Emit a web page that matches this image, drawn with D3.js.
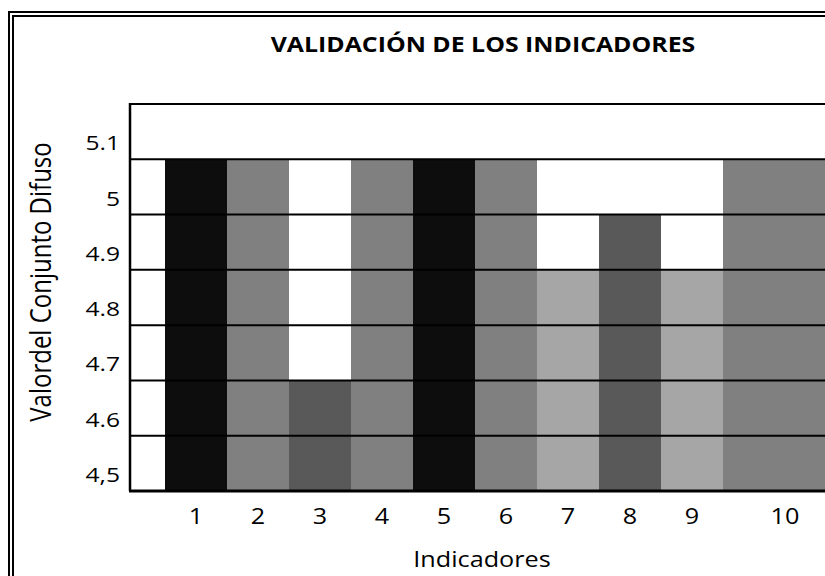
<!DOCTYPE html>
<html>
<head>
<meta charset="utf-8">
<script src="https://cdn.jsdelivr.net/npm/d3@7"></script>
<style>
  body { margin: 0; background: #fff; }
  svg { display: block; font-family: "Open Sans", sans-serif; }
</style>
</head>
<body>
<div class="chart"></div>
<script>
// datos
const indicators = ["1", "2", "3", "4", "5", "6", "7", "8", "9", "10"];
const values = [5.0, 5.0, 4.6, 5.0, 5.0, 5.0, 4.8, 4.9, 4.8, 5.0];
const yTicks = [4.5, 4.6, 4.7, 4.8, 4.9, 5.0, 5.1];
const yTickLabels = ["4,5", "4.6", "4.7", "4.8", "4.9", "5", "5.1"];
const gridValues = [4.5, 4.6, 4.7, 4.8, 4.9, 5.0];

// tonos de gris de cada barra
const shades = ["#0d0d0d", "#808080", "#595959", "#808080", "#0d0d0d",
                "#808080", "#a6a6a6", "#595959", "#a6a6a6", "#808080"];

const width = 825, height = 576;
const plot = { left: 130, top: 104, bottom: 491, firstBar: 165, right: 847 };
const stretch = 1.2; // el original está estirado en horizontal

const svg = d3.select('.chart').append('svg')
    .attr('width', width).attr('height', height);

// marco doble
svg.append('rect').attr('x', 9).attr('y', 12).attr('width', 900).attr('height', 700)
    .attr('fill', 'none').attr('stroke', '#000').attr('stroke-width', 2);
svg.append('rect').attr('x', 13).attr('y', 16).attr('width', 900).attr('height', 700)
    .attr('fill', 'none').attr('stroke', '#000').attr('stroke-width', 2);

// escalas
const y = d3.scaleLinear().domain([4.4, 5.1]).range([plot.bottom, plot.top]);
const x = d3.scaleLinear().domain([0, indicators.length + 1]).range([plot.firstBar, plot.right]);

// barras (la última ocupa hasta el borde derecho)
const barEnd = i => i === indicators.length - 1 ? x(indicators.length + 1) : x(i + 1);
svg.append('g').attr('class', 'bars').selectAll('rect')
    .data(values).join('rect')
    .attr('x', (d, i) => x(i))
    .attr('width', (d, i) => barEnd(i) - x(i))
    .attr('y', d => y(d))
    .attr('height', d => y(4.4) - y(d))
    .attr('fill', (d, i) => shades[i]);

// líneas de cuadrícula
svg.append('g').attr('class', 'grid').selectAll('line')
    .data(gridValues).join('line')
    .attr('x1', plot.left).attr('x2', width)
    .attr('y1', d => y(d)).attr('y2', d => y(d))
    .attr('stroke', '#000').attr('stroke-width', 2);

// bordes del área
svg.append('line').attr('x1', plot.left).attr('x2', width)
    .attr('y1', y(5.1)).attr('y2', y(5.1)).attr('stroke', '#000').attr('stroke-width', 2);
svg.append('line').attr('x1', plot.left - 1).attr('x2', width)
    .attr('y1', y(4.4)).attr('y2', y(4.4)).attr('stroke', '#000').attr('stroke-width', 3);
svg.append('line').attr('x1', plot.left).attr('x2', plot.left)
    .attr('y1', y(5.1) - 1).attr('y2', y(4.4)).attr('stroke', '#000').attr('stroke-width', 2.5);

// etiquetas eje y
svg.append('g').attr('class', 'y-labels').selectAll('text')
    .data(yTicks).join('text')
    .attr('transform', d => `translate(120,${y(d - 0.1) - 9}) scale(${stretch},1)`)
    .attr('text-anchor', 'end')
    .style('font-size', '20.5px')
    .text((d, i) => yTickLabels[i]);

// etiquetas eje x
svg.append('g').attr('class', 'x-labels').selectAll('text')
    .data(indicators).join('text')
    .attr('transform', (d, i) => `translate(${(x(i) + barEnd(i)) / 2},524) scale(${stretch},1)`)
    .attr('text-anchor', 'middle')
    .style('font-size', '21px')
    .text(d => d);

// títulos
svg.append('text')
    .attr('transform', `translate(483,52) scale(1.13,1)`)
    .attr('text-anchor', 'middle')
    .style('font-size', '22px').style('font-weight', 'bold')
    .text('VALIDACIÓN DE LOS INDICADORES');

svg.append('text')
    .attr('transform', `translate(482,567) scale(${stretch},1)`)
    .attr('text-anchor', 'middle')
    .style('font-size', '21px')
    .text('Indicadores');

svg.append('text')
    .attr('transform', `translate(51,282) scale(${stretch},1) rotate(-90)`)
    .attr('text-anchor', 'middle')
    .style('font-size', '24px')
    .text('Valordel Conjunto Difuso');
</script>
</body>
</html>
